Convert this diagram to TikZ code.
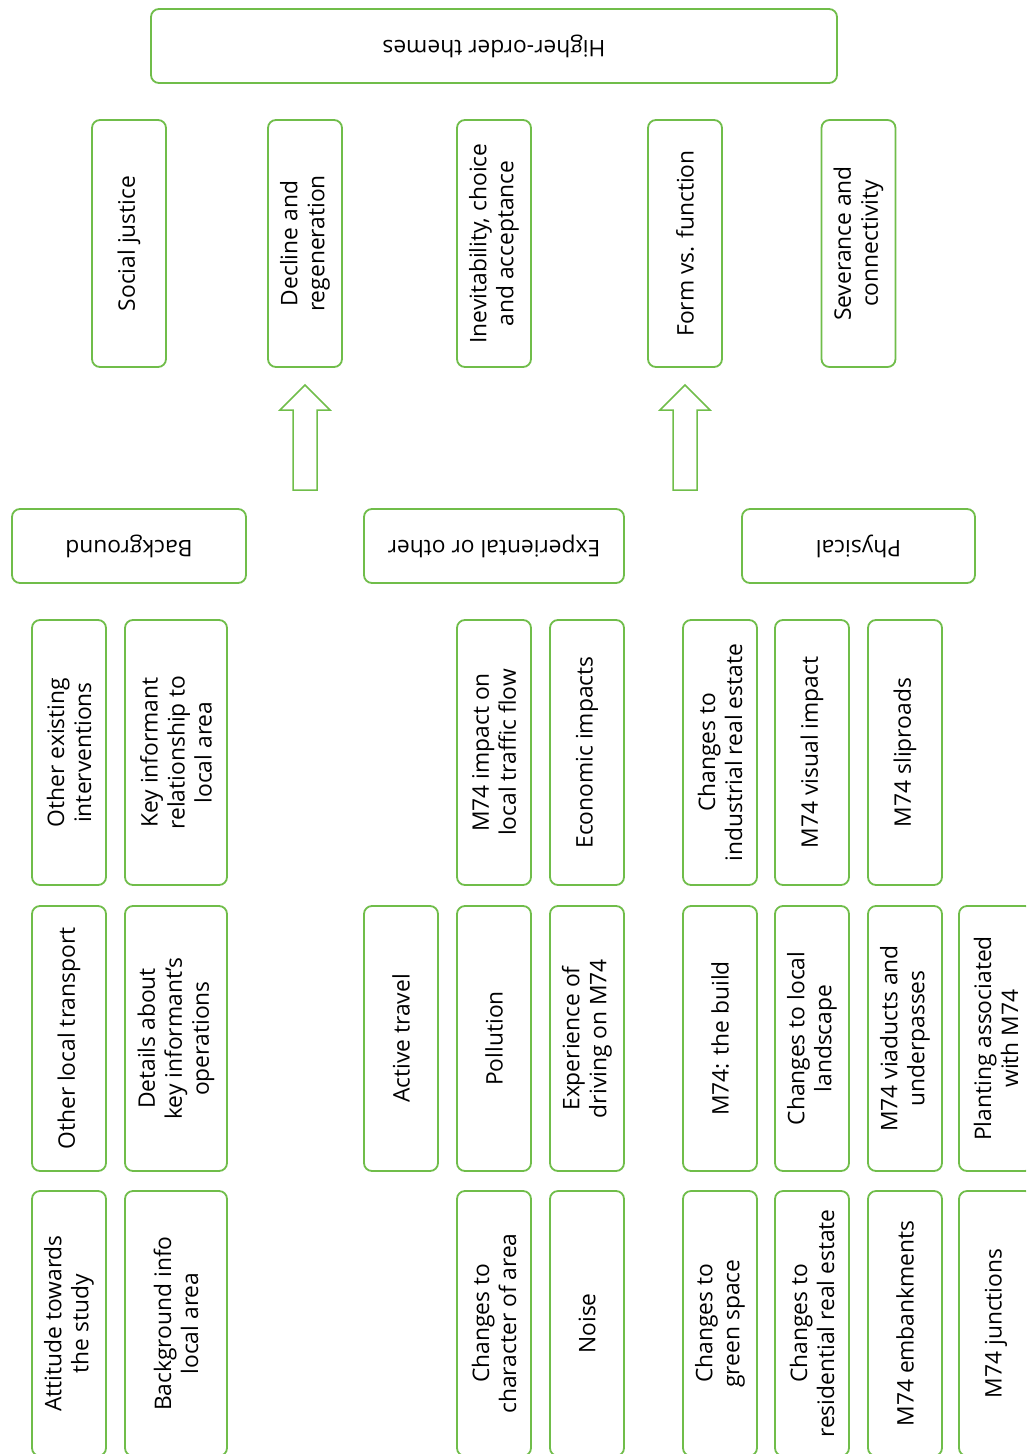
\documentclass[tikz,border=0pt]{standalone}
\usepackage{fontspec}
\setmainfont{Open Sans}
\definecolor{leaf}{RGB}{112,189,74}
\tikzset{
  box/.style={draw=leaf, line width=1.8pt, rounded corners=8pt, fill=white,
    align=center, inner sep=0pt, text=black,
    font=\fontsize{22.8}{27}\selectfont},
  vbox/.style={box, rotate=90, minimum width=265pt, minimum height=74pt},
  tbox/.style={vbox, minimum width=247pt},
  wbox/.style={vbox, minimum height=102pt},
  hbox/.style={box, rotate=180, minimum height=74pt},
  blockarrow/.style={draw=leaf, line width=1.5pt, fill=white, line join=miter}
}
\begin{document}
\begin{tikzpicture}[x=1pt, y=-1pt]
\useasboundingbox (0,0) rectangle (1026,1454);
\clip (0,0) rectangle (1026,1454);

% top header
\node[hbox, minimum width=686pt] (top) at (494,46) {Higher-order themes};

% higher-order themes
\node[tbox] (t1) at (129,243.5) {Social justice};
\node[tbox] (t2) at (305,243.5) {Decline and\\regeneration};
\node[tbox] (t3) at (494,243.5) {Inevitability, choice\\and acceptance};
\node[tbox] (t4) at (685,243.5) {Form vs. function};
\node[tbox] (t5) at (858.5,243.5) {Severance and\\connectivity};

% block arrows
\draw[blockarrow] (305,385) -- (330,410) -- (317,410) -- (317,490) -- (293,490) -- (293,410) -- (280,410) -- cycle;
\draw[blockarrow] (685,385) -- (710,410) -- (697,410) -- (697,490) -- (673,490) -- (673,410) -- (660,410) -- cycle;

% category headers
\node[hbox, minimum width=234pt] (bg) at (129,546) {Background};
\node[hbox, minimum width=260pt] (ex) at (494,546) {Experiental or other};
\node[hbox, minimum width=233pt] (ph) at (858.5,546) {Physical};

% background codes
\node[vbox] (b11) at (69,752.5) {Other existing\\interventions};
\node[wbox] (b12) at (176,752.5) {Key informant\\relationship to\\local area};
\node[vbox] (b21) at (69,1038.5) {Other local transport};
\node[wbox] (b22) at (176,1038.5) {Details about\\key informant’s\\operations};
\node[vbox] (b31) at (69,1323.5) {Attitude towards\\the study};
\node[wbox] (b32) at (176,1323.5) {Background info\\local area};

% experiential codes
\node[vbox] (e12) at (494,752.5) {M74 impact on\\local traffic flow};
\node[vbox] (e13) at (587,752.5) {Economic impacts};
\node[vbox] (e21) at (401,1038.5) {Active travel};
\node[vbox] (e22) at (494,1038.5) {Pollution};
\node[vbox] (e23) at (587,1038.5) {Experience of\\driving on M74};
\node[vbox] (e32) at (494,1323.5) {Changes to\\character of area};
\node[vbox] (e33) at (587,1323.5) {Noise};

% physical codes
\node[vbox] (p11) at (720,752.5) {Changes to\\industrial real estate};
\node[vbox] (p12) at (812,752.5) {M74 visual impact};
\node[vbox] (p13) at (905,752.5) {M74 sliproads};
\node[vbox] (p21) at (720,1038.5) {M74: the build};
\node[vbox] (p22) at (812,1038.5) {Changes to local\\landscape};
\node[vbox] (p23) at (905,1038.5) {M74 viaducts and\\underpasses};
\node[vbox] (p24) at (996,1038.5) {Planting associated\\with M74};
\node[vbox] (p31) at (720,1323.5) {Changes to\\green space};
\node[vbox] (p32) at (812,1323.5) {Changes to\\residential real estate};
\node[vbox] (p33) at (905,1323.5) {M74 embankments};
\node[vbox] (p34) at (996,1323.5) {M74 junctions};
\end{tikzpicture}
\end{document}
